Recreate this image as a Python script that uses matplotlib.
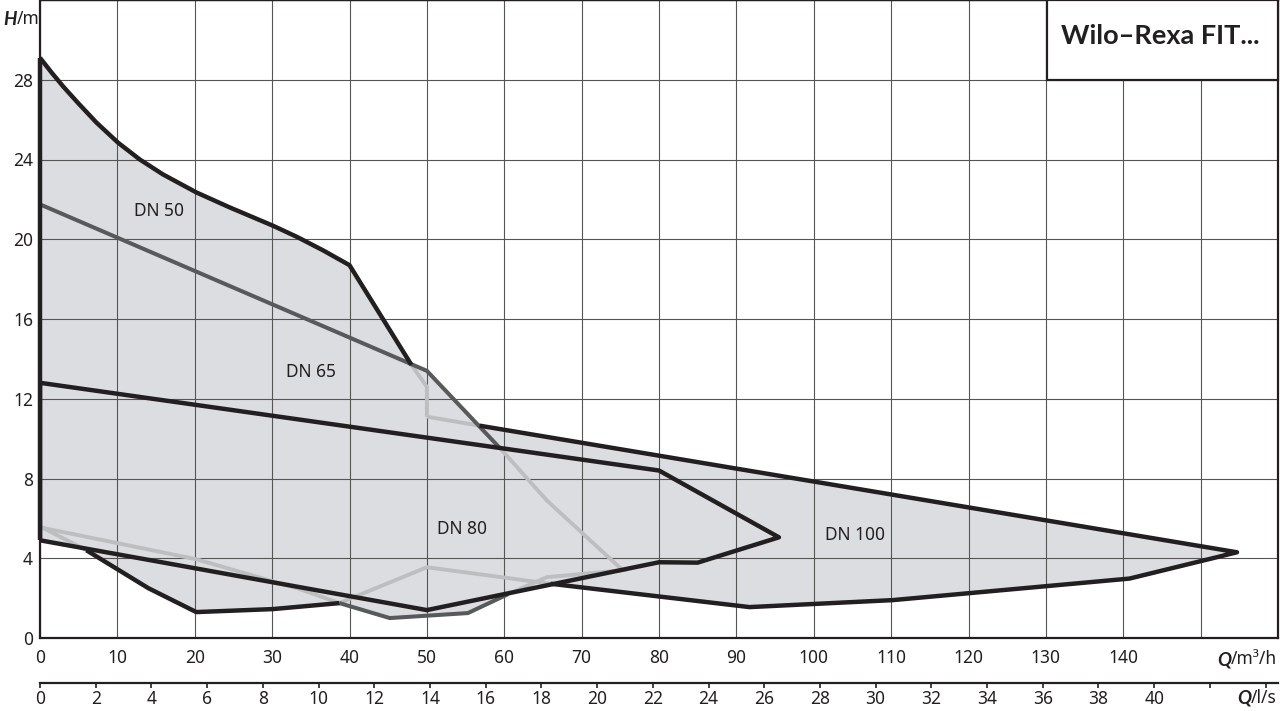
import matplotlib
matplotlib.use("Agg")
import matplotlib.pyplot as plt
from matplotlib.patches import Rectangle, Polygon

plt.rcParams['font.family'] = ['Noto Sans', 'DejaVu Sans']
BOLD_FAMILY = ['Lato', 'Roboto', 'DejaVu Sans']

# ---------------- data (Q in m3/h, H in m) ----------------
x_ticks = [0, 10, 20, 30, 40, 50, 60, 70, 80, 90, 100, 110, 120, 130, 140, 150]
x_labels = ['0', '10', '20', '30', '40', '50', '60', '70', '80', '90', '100',
            '110', '120', '130', '140', '']
y_ticks = [0, 4, 8, 12, 16, 20, 24, 28, 32]
y_labels = ['0', '4', '8', '12', '16', '20', '24', '28', '']
ls_ticks = [0, 2, 4, 6, 8, 10, 12, 14, 16, 18, 20, 22, 24, 26, 28, 30, 32, 34,
            36, 38, 40, 42, 44]
ls_labels = ['0', '2', '4', '6', '8', '10', '12', '14', '16', '18', '20', '22',
             '24', '26', '28', '30', '32', '34', '36', '38', '40', '', '']

# DN 50
dn50_top_q = [0, 1.5, 3.0, 5.0, 7.3, 10.1, 12.9, 15.9, 20.2, 24.5, 30.1, 33.2, 36.6, 40.0, 48.0]
dn50_top_h = [29.1, 28.36, 27.66, 26.8, 25.85, 24.84, 24.0, 23.25, 22.35, 21.6, 20.68, 20.12, 19.44, 18.7, 13.7]
dn50_edge_q = [48.0, 50.0, 50.0]
dn50_edge_h = [13.7, 12.6, 11.1]
dn50_left_q = [0, 0]
dn50_left_h = [29.1, 4.9]
dn50_bot_q = [6.0, 14.0, 20.2, 30.1, 38.7]
dn50_bot_h = [4.4, 2.5, 1.3, 1.45, 1.75]
dn50_botA_q = [0, 6.0]
dn50_botA_h = [5.6, 4.4]
dn50_botB_q = [38.7, 50.0]
dn50_botB_h = [1.75, 3.55]

# DN 65
dn65_top_q = [0, 50.0, 59.5]
dn65_top_h = [21.75, 13.4, 9.5]
dn65_right_q = [59.5, 65.5, 75.3, 65.5, 60.5]
dn65_right_h = [9.5, 6.9, 3.4, 3.05, 2.2]
dn65_bot_q = [60.5, 55.3, 45.2, 38.7]
dn65_bot_h = [2.2, 1.25, 1.0, 1.75]
dn65_botL_q = [38.7, 33.6, 20.2, 0]
dn65_botL_h = [1.75, 2.45, 3.95, 5.55]

# DN 80
dn80_q = [0, 80, 95.5, 85, 80, 50, 0, 0]
dn80_h = [12.8, 8.4, 5.05, 3.78, 3.8, 1.4, 4.9, 12.8]

# DN 100
dn100_topL_q = [50.0, 56.8]
dn100_topL_h = [11.1, 10.65]
dn100_q = [56.8, 154.7, 140.8, 110.2, 91.7, 66.0]
dn100_h = [10.65, 4.3, 2.98, 1.9, 1.55, 2.72]
dn100_botL_q = [66.0, 50.0]
dn100_botL_h = [2.72, 3.55]

labels = ['DN 50', 'DN 65', 'DN 80', 'DN 100']
label_q = [15.4, 35.0, 54.6, 105.3]
label_h = [21.4, 13.35, 5.47, 5.17]

title = 'Wilo–Rexa FIT...'

# ---------------- styling ----------------
BLACK = '#231f20'
DARK = '#58595b'
LIGHT = '#bcbec0'
FILL = '#dcdde0'
GRID = '#555555'

W, Hpx = 1280, 711
fig = plt.figure(figsize=(W / 100, Hpx / 100), dpi=100)
L, R, T, B = 40, 1278, 0, 638
ax = fig.add_axes([L / W, (Hpx - B) / Hpx, (R - L) / W, (B - T) / Hpx])
ax.set_xlim(0, 160)
ax.set_ylim(0, 32)


def poly(qs, hs):
    return list(zip(qs, hs))


p50 = poly(dn50_top_q + dn50_edge_q[1:2] + [50.0] + dn50_bot_q[::-1] + [0],
           dn50_top_h + dn50_edge_h[1:2] + [3.55] + dn50_bot_h[::-1] + [5.6])
p65 = poly(dn65_top_q + dn65_right_q[1:] + dn65_bot_q[1:] + dn65_botL_q[1:],
           dn65_top_h + dn65_right_h[1:] + dn65_bot_h[1:] + dn65_botL_h[1:])
p80 = poly(dn80_q, dn80_h)
p100 = poly(dn100_topL_q + dn100_q[1:] + dn100_botL_q[1:],
            dn100_topL_h + dn100_h[1:] + dn100_botL_h[1:])
for p in (p50, p65, p80, p100):
    ax.add_patch(Polygon(p, closed=True, facecolor=FILL, edgecolor='none', zorder=1))

ax.set_axisbelow('line')
ax.set_xticks(x_ticks)
ax.set_xticklabels(x_labels)
ax.set_yticks(y_ticks)
ax.set_yticklabels(y_labels)
ax.grid(True, color=GRID, lw=0.8)
ax.tick_params(axis='both', length=0, labelsize=12.5, colors=BLACK)
ax.tick_params(axis='x', pad=8)
ax.tick_params(axis='y', pad=5)
for s in ('left', 'bottom', 'right'):
    ax.spines[s].set_linewidth(1.6)
    ax.spines[s].set_color(BLACK)
ax.spines['top'].set_linewidth(1.0)
ax.spines['top'].set_color(BLACK)

kw = dict(solid_joinstyle='miter', solid_capstyle='butt')
for q, h in [(dn50_edge_q, dn50_edge_h), (dn50_botA_q, dn50_botA_h),
             (dn50_botB_q, dn50_botB_h), (dn65_right_q, dn65_right_h),
             (dn65_botL_q, dn65_botL_h), (dn100_topL_q, dn100_topL_h),
             (dn100_botL_q, dn100_botL_h)]:
    ax.plot(q, h, color=LIGHT, lw=2.8, zorder=3, **kw)
for q, h in [(dn65_top_q, dn65_top_h), (dn65_bot_q, dn65_bot_h)]:
    ax.plot(q, h, color=DARK, lw=2.9, zorder=4, **kw)
for q, h in [(dn50_top_q, dn50_top_h), (dn50_bot_q, dn50_bot_h),
             (dn80_q, dn80_h), (dn100_q, dn100_h)]:
    ax.plot(q, h, color=BLACK, lw=3.2, zorder=5, solid_joinstyle='round',
            solid_capstyle='butt')
ax.plot(dn50_left_q, dn50_left_h, color=BLACK, lw=3.2, zorder=5, clip_on=False, **kw)

for t, q, h in zip(labels, label_q, label_h):
    ax.text(q, h, t, ha='center', va='center', fontsize=12.5, color=BLACK, zorder=6)

# secondary axis (l/s)
ax2 = fig.add_axes([L / W, (Hpx - 683) / Hpx, (R - L) / W, 1e-4])
ax2.patch.set_visible(False)
ax2.set_xlim(0, 160 / 3.6)
ax2.set_yticks([])
for s in ('left', 'right', 'top'):
    ax2.spines[s].set_visible(False)
ax2.spines['bottom'].set_linewidth(1.6)
ax2.spines['bottom'].set_color(BLACK)
ax2.set_xticks(ls_ticks)
ax2.set_xticklabels(ls_labels)
ax2.tick_params(axis='x', length=3.5, width=1.2, colors=BLACK, labelsize=12.5, pad=1.5)


def fig_y(px):
    return (Hpx - px) / Hpx


def unit_label(x_px, base_px, bold, rest, align_left):
    if align_left:
        t1 = fig.text(x_px / W, fig_y(base_px), bold, fontsize=13.5, fontweight='bold',
                      fontstyle='italic', family=BOLD_FAMILY, ha='left',
                      va='baseline', color=BLACK)
        ax.annotate(rest, xy=(1, 0), xycoords=t1, ha='left', va='bottom',
                    fontsize=12.5, color=BLACK, annotation_clip=False)
    else:
        t2 = fig.text(x_px / W, fig_y(base_px), rest, fontsize=12.5, ha='right',
                      va='baseline', color=BLACK)
        ax.annotate(bold, xy=(0, 0), xycoords=t2, ha='right', va='bottom',
                    fontsize=13.5, fontweight='bold', fontstyle='italic',
                    family=BOLD_FAMILY, color=BLACK, annotation_clip=False)


unit_label(3, 25, 'H', '/m', True)
unit_label(1277, 664, 'Q', '/m³/h', False)
unit_label(1277, 703, 'Q', '/l/s', False)

# title box
fig.add_artist(Rectangle((1047 / W, fig_y(80)), (1278 - 1047) / W, 80 / Hpx,
                         transform=fig.transFigure, facecolor='white',
                         edgecolor=BLACK, lw=1.6, zorder=5))
fig.text((1047 + 1278) / 2 / W - 2 / W, fig_y(44), title, ha='center', va='baseline',
         fontsize=19.5, fontweight='bold', family=BOLD_FAMILY, color=BLACK, zorder=6)

fig.savefig('out.png', dpi=100, facecolor='white')
